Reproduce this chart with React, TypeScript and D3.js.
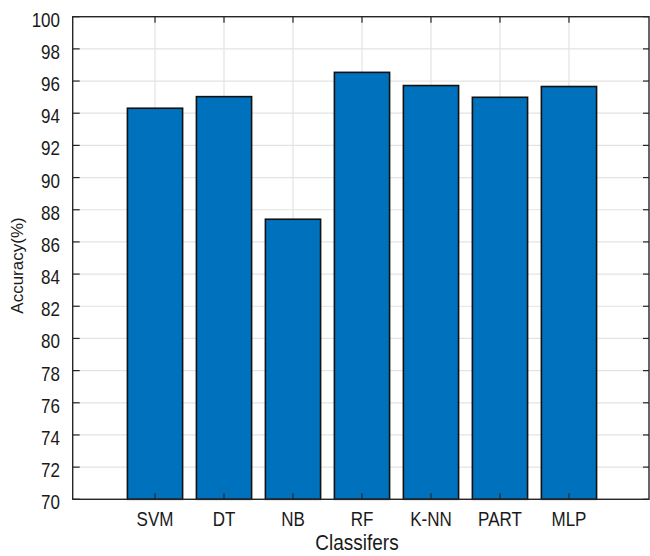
import React from "react";
import * as d3 from "d3";

const categories = ["SVM", "DT", "NB", "RF", "K-NN", "PART", "MLP"];
const accuracy = [94.31, 95.03, 87.41, 96.54, 95.72, 94.99, 95.66];
const yTicks = [70, 72, 74, 76, 78, 80, 82, 84, 86, 88, 90, 92, 94, 96, 98, 100];

const W = 650;
const H = 556;
const left = 72.7;
const right = 649;
const top = 16.7;
const bottom = 499.3;

export default function App() {
  const x = d3.scaleLinear().domain([-0.193, 8.16]).range([left, right]);
  const y = d3.scaleLinear().domain([70, 100]).range([bottom, top]);
  const bw = (x(1) - x(0)) * 0.8;
  const axisColor = "#262626";
  const gridColor = "#e3e3e3";
  const font = "'Liberation Sans', Arial, sans-serif";
  const tickLen = 6;

  return (
    <svg width={W} height={H} style={{ position: "absolute", left: 0, top: 0, background: "#fff" }}>
      {/* grid */}
      <g>
        {yTicks.map((t) => (
          <line key={"gy" + t} x1={left} x2={right} y1={y(t)} y2={y(t)} stroke={gridColor} strokeWidth={1.2} />
        ))}
        {categories.map((c, i) => (
          <line key={"gx" + c} x1={x(i + 1)} x2={x(i + 1)} y1={top} y2={bottom} stroke={gridColor} strokeWidth={1.2} />
        ))}
      </g>
      {/* bars */}
      <g>
        {accuracy.map((v, i) => (
          <rect
            key={categories[i]}
            x={x(i + 1) - bw / 2}
            y={y(v)}
            width={bw}
            height={y(70) - y(v)}
            fill="#0072BD"
            stroke="#111"
            strokeWidth={1.6}
          />
        ))}
      </g>
      {/* axes box */}
      <rect x={left} y={top} width={right - left} height={bottom - top} fill="none" stroke={axisColor} strokeWidth={1.4} />
      {/* ticks */}
      <g stroke={axisColor} strokeWidth={1.2}>
        {yTicks.map((t) => (
          <g key={"ty" + t}>
            <line x1={left} x2={left + tickLen + 1} y1={y(t)} y2={y(t)} />
            <line x1={right} x2={right - tickLen} y1={y(t)} y2={y(t)} />
          </g>
        ))}
        {categories.map((c, i) => (
          <g key={"tx" + c}>
            <line x1={x(i + 1)} x2={x(i + 1)} y1={bottom} y2={bottom - tickLen} />
            <line x1={x(i + 1)} x2={x(i + 1)} y1={top} y2={top + tickLen} />
          </g>
        ))}
      </g>
      {/* y tick labels */}
      <g fontFamily={font} fontSize={17} fill="#1a1a1a">
        {yTicks.map((t) => (
          <text key={"ly" + t} transform={`translate(60,${y(t) + 10}) scale(1,1.17)`} textAnchor="end">
            {t}
          </text>
        ))}
        {categories.map((c, i) => (
          <text key={"lx" + c} transform={`translate(${x(i + 1)},526) scale(1,1.17)`} textAnchor="middle">
            {c}
          </text>
        ))}
      </g>
      {/* axis labels */}
      <text
        transform={`translate(357,550) scale(1,1.15)`}
        textAnchor="middle"
        fontFamily={font}
        fontSize={19}
        fill="#1a1a1a"
      >
        Classifers
      </text>
      <text
        transform={`translate(23,265.5) rotate(-90)`}
        textAnchor="middle"
        fontFamily={font}
        fontSize={17}
        fill="#1a1a1a"
      >
        Accuracy(%)
      </text>
    </svg>
  );
}
